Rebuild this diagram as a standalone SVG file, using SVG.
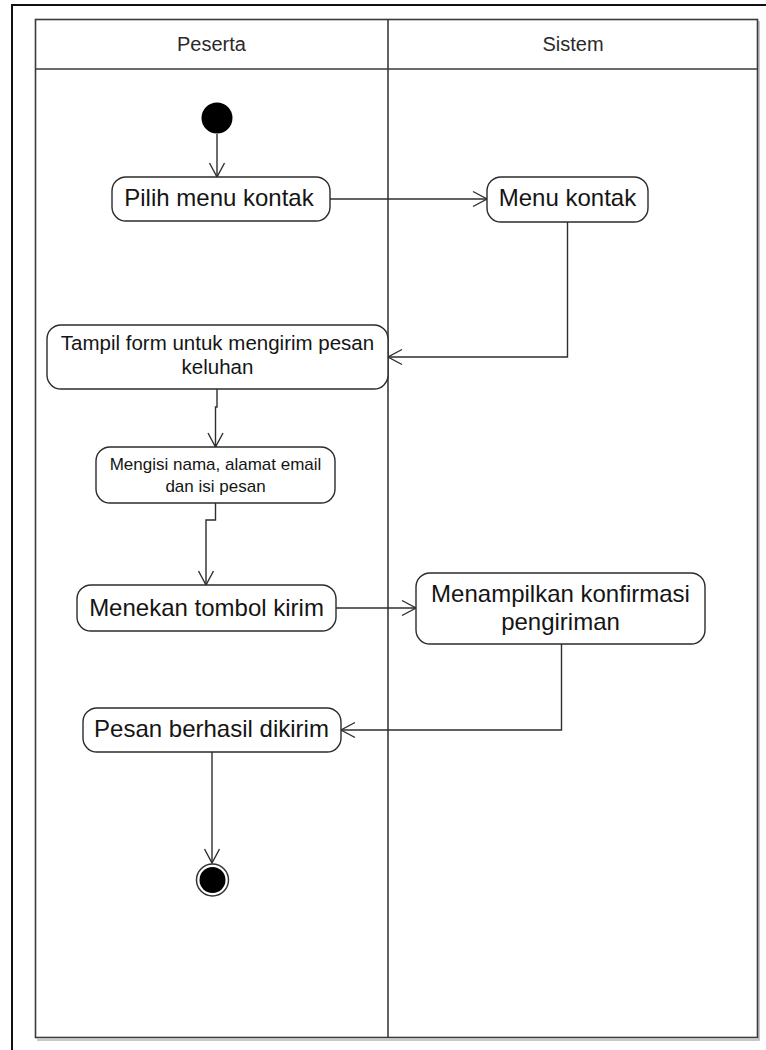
<svg xmlns="http://www.w3.org/2000/svg" width="766" height="1050" viewBox="0 0 766 1050">
  <style>
    .frame { fill: none; stroke: #111; stroke-width: 2; }
    .lane { fill: none; stroke: #3a3a3a; stroke-width: 1.6; }
    .lane-shadow { fill: none; stroke: #b5b5b5; stroke-width: 1.5; }
    .head { font-family: "Liberation Sans", Arial, sans-serif; font-size: 20px; fill: #2a2a2a; text-anchor: middle; }
    .act { fill: #fff; stroke: #2b2b2b; stroke-width: 1.4; }
    .lbl { font-family: "Liberation Sans", Arial, sans-serif; fill: #151515; text-anchor: middle; }
    .big { font-size: 24px; }
    .mid { font-size: 20.5px; }
    .small { font-size: 17px; }
    .flow { fill: none; stroke: #2e2e2e; stroke-width: 1.4; marker-end: url(#open); }
  </style>
  <defs>
    <marker id="open" markerUnits="userSpaceOnUse" markerWidth="16" markerHeight="18" viewBox="-15 -9 16 18" refX="0" refY="0" orient="auto">
      <path d="M-14,-7.5 L0,0 L-14,7.5" fill="none" stroke="#2e2e2e" stroke-width="1.4"/>
    </marker>
  </defs>

  <rect width="766" height="1050" fill="#fff"/>

  <!-- outer frame, open on the right and bottom -->
  <path class="frame" d="M12,1050 V5 H766"/>

  <!-- swimlanes -->
  <g id="lanes">
    <path class="lane-shadow" d="M759,21 V1040 H37"/>
    <rect class="lane" x="35.5" y="19.5" width="722" height="1018"/>
    <line class="lane" x1="35.5" y1="69" x2="757.5" y2="69"/>
    <line class="lane" x1="388" y1="19.5" x2="388" y2="1037.5"/>
    <text class="head" x="211.5" y="51">Peserta</text>
    <text class="head" x="573" y="51">Sistem</text>
  </g>

  <!-- control flow -->
  <g id="connectors">
    <path class="flow" d="M217,134 V177"/>
    <path class="flow" d="M330,199 H487"/>
    <path class="flow" d="M567.5,222 V357 H388"/>
    <path class="flow" d="M217,389 V407 H215.5 V447"/>
    <path class="flow" d="M215.5,503 V520 H206 V585"/>
    <path class="flow" d="M336,608 H416"/>
    <path class="flow" d="M561.5,644 V730 H341"/>
    <path class="flow" d="M212,752 V863"/>
  </g>

  <g id="start">
    <circle cx="217" cy="118" r="15.5" fill="#000"/>
  </g>

  <g id="pilih-menu-kontak">
    <rect class="act" x="112" y="177" width="218" height="44" rx="14"/>
    <text class="lbl big" x="219" y="206">Pilih menu kontak</text>
  </g>

  <g id="menu-kontak">
    <rect class="act" x="487" y="177" width="161" height="45" rx="14"/>
    <text class="lbl big" x="567.5" y="206">Menu kontak</text>
  </g>

  <g id="tampil-form">
    <rect class="act" x="47" y="325" width="341" height="64" rx="14"/>
    <text class="lbl mid" x="217.5" y="350">Tampil form untuk mengirim pesan</text>
    <text class="lbl mid" x="217.5" y="374">keluhan</text>
  </g>

  <g id="mengisi-data">
    <rect class="act" x="96" y="447" width="239" height="56" rx="14"/>
    <text class="lbl small" x="215.5" y="470">Mengisi nama, alamat email</text>
    <text class="lbl small" x="215.5" y="491.5">dan isi pesan</text>
  </g>

  <g id="menekan-tombol">
    <rect class="act" x="77" y="585" width="259" height="46" rx="14"/>
    <text class="lbl big" x="206.5" y="615.5">Menekan tombol kirim</text>
  </g>

  <g id="konfirmasi">
    <rect class="act" x="416" y="573" width="289" height="71" rx="14"/>
    <text class="lbl big" x="560.5" y="602">Menampilkan konfirmasi</text>
    <text class="lbl big" x="560.5" y="630">pengiriman</text>
  </g>

  <g id="pesan-terkirim">
    <rect class="act" x="83" y="708" width="258" height="44" rx="14"/>
    <text class="lbl big" x="211.5" y="737">Pesan berhasil dikirim</text>
  </g>

  <g id="end">
    <circle cx="212.5" cy="880" r="16" fill="#fff" stroke="#333" stroke-width="1.5"/>
    <circle cx="212.5" cy="880" r="13" fill="#000"/>
  </g>
</svg>
